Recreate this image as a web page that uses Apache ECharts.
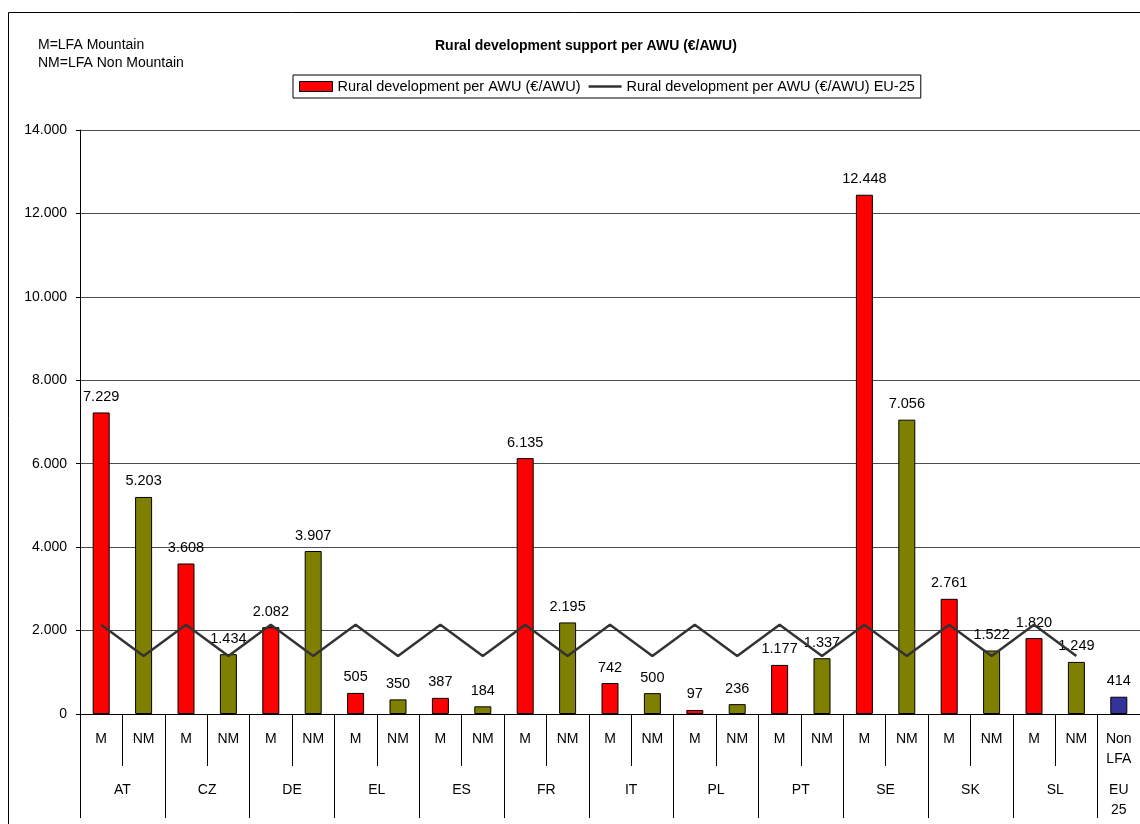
<!DOCTYPE html>
<html>
<head>
<meta charset="utf-8">
<script src="https://cdn.jsdelivr.net/npm/echarts@6/dist/echarts.min.js"></script>
<style>
html,body{margin:0;padding:0;background:#fff;}
#chart{width:1140px;height:824px;}
</style>
</head>
<body>
<div id="chart"></div>
<script>
const categories = ['M','NM','M','NM','M','NM','M','NM','M','NM','M','NM','M','NM','M','NM','M','NM','M','NM','M','NM','M','NM','Non\nLFA'];
const groups = ['AT','CZ','DE','EL','ES','FR','IT','PL','PT','SE','SK','SL','EU\n25'];
const groupCenters = [1,3,5,7,9,11,13,15,17,19,21,23,24.5];
const groupBounds = [0,2,4,6,8,10,12,14,16,18,20,22,24,25];
const ruralValues = [7229,5203,3608,1434,2082,3907,505,350,387,184,6135,2195,742,500,97,236,1177,1337,12448,7056,2761,1522,1820,1249,414];
const eu25Values = [2140,1390,2140,1390,2140,1390,2140,1390,2140,1390,2140,1390,2140,1390,2140,1390,2140,1390,2140,1390,2140,1390,2140,1390,null];
const yTicks = [0,2000,4000,6000,8000,10000,12000,14000];

const fmt = v => String(v).replace(/\B(?=(\d{3})+(?!\d))/g, '.');
const FONT = 'Liberation Sans, Arial, sans-serif';

const barData = ruralValues.map((v, i) => ({
  value: v,
  itemStyle: { color: i === ruralValues.length - 1 ? '#333399' : (i % 2 === 0 ? '#ff0000' : '#808000') }
}));

const chart = echarts.init(document.getElementById('chart'), null, {renderer: 'canvas'});
chart.setOption({
  animation: false,
  backgroundColor: '#fff',
  textStyle: { fontFamily: FONT },
  title: {
    text: 'Rural development support per AWU (€/AWU)',
    left: 430, top: 34,
    textStyle: { fontFamily: FONT, fontSize: 14, fontWeight: 'bold', color: '#000' }
  },
  graphic: [
    { type: 'rect', shape: { x: 8.5, y: 12.5, width: 1300, height: 1000 }, style: { fill: 'none', stroke: '#000', lineWidth: 1 }, silent: true, z: -10 },
    { type: 'text', left: 38, top: 38, style: { text: 'M=LFA Mountain', font: '14px ' + FONT, fill: '#000' } },
    { type: 'text', left: 38, top: 56, style: { text: 'NM=LFA Non Mountain', font: '14px ' + FONT, fill: '#000' } }
  ],
  legend: {
    left: 293, top: 75,
    padding: [4, 6, 4, 6],
    borderColor: '#000', borderWidth: 1,
    itemWidth: 33, itemHeight: 10, itemGap: 8,
    textStyle: { fontFamily: FONT, fontSize: 14.5, color: '#000' },
    data: [
      { name: 'Rural development per AWU (€/AWU)', icon: 'rect', itemStyle: { color: '#ff0000', borderColor: '#000', borderWidth: 1 } },
      { name: 'Rural development per AWU (€/AWU) EU-25', icon: 'path://M0,0 L34,0 L34,2.4 L0,2.4 Z', itemHeight: 3, itemStyle: { color: '#333333', borderWidth: 0 } }
    ]
  },
  grid: { left: 80, top: 130, width: 1062, height: 584, containLabel: false },
  xAxis: [
    {
      type: 'category', data: categories, boundaryGap: true,
      axisLine: { show: true, lineStyle: { color: '#000', width: 1 } },
      axisTick: { show: true, interval: 0, length: 52, lineStyle: { color: '#000' } },
      axisLabel: { interval: 0, margin: 15, fontSize: 14, lineHeight: 20, color: '#000', fontFamily: FONT },
      splitLine: { show: false }
    },
    {
      type: 'value', min: 0, max: 25, position: 'bottom',
      axisLine: { show: false },
      axisTick: { show: true, length: 104, customValues: groupBounds, lineStyle: { color: '#000' } },
      axisLabel: {
        margin: 66, fontSize: 14, lineHeight: 20, color: '#000', fontFamily: FONT,
        customValues: groupCenters,
        formatter: v => groups[groupCenters.indexOf(v)]
      },
      splitLine: { show: false }
    }
  ],
  yAxis: {
    type: 'value', min: 0, max: 14000, interval: 2000,
    axisLine: { show: true, lineStyle: { color: '#000' } },
    axisTick: { show: true, length: 4, inside: false, lineStyle: { color: '#000' } },
    axisLabel: { margin: 13, fontSize: 14, color: '#000', fontFamily: FONT, formatter: v => fmt(v) },
    splitLine: { show: true, lineStyle: { color: '#4d4d4d', width: 1 } }
  },
  series: [
    {
      name: 'Rural development per AWU (€/AWU)', type: 'bar', xAxisIndex: 0,
      barWidth: 17,
      data: barData,
      itemStyle: { color: '#ff0000', borderColor: '#000', borderWidth: 1 },
      label: { show: true, position: 'top', distance: 8, fontSize: 14.5, color: '#000', fontFamily: FONT, formatter: p => fmt(p.value) },
      z: 2
    },
    {
      name: 'Rural development per AWU (€/AWU) EU-25', type: 'line', xAxisIndex: 0,
      data: eu25Values, symbol: 'none', connectNulls: false,
      lineStyle: { color: '#333333', width: 2.5 },
      itemStyle: { color: '#333333' },
      z: 3
    }
  ]
});
</script>
</body>
</html>
